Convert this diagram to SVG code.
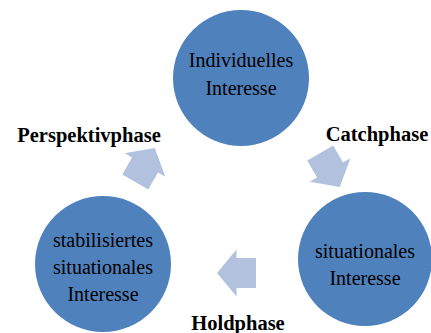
<svg xmlns="http://www.w3.org/2000/svg" width="431" height="333" viewBox="0 0 431 333">
<defs>
<style>
.node{fill:#4F81BD;}
.nt{font-size:20px;fill:#000;text-anchor:middle;}
.lbl{font-size:20.5px;font-weight:bold;fill:#000;text-anchor:middle;}
.arr{fill:#B2C2DE;}
</style>
<path id="blockArrow" d="M -19.5,-15 L 0,-15 L 0,-23.5 L 19.5,0 L 0,23.5 L 0,15 L -19.5,15 Z"/>
</defs>
<rect width="431" height="333" fill="#fff"/>
<g id="connectors" font-family="Liberation Serif, Tinos, Times New Roman, DejaVu Serif, serif">
<use href="#blockArrow" class="arr" transform="translate(330,170) rotate(60)"/>
<use href="#blockArrow" class="arr" transform="translate(236.5,273) rotate(180)"/>
<use href="#blockArrow" class="arr" transform="translate(145,165) rotate(-60)"/>
<text class="lbl" x="377" y="141">Catchphase</text>
<text class="lbl" x="238" y="330">Holdphase</text>
<text class="lbl" x="89" y="142">Perspektivphase</text>
</g>
<g id="node-individuelles" font-family="Liberation Serif, Tinos, Times New Roman, DejaVu Serif, serif">
<circle class="node" cx="241" cy="78" r="68"/>
<text class="nt" x="241" y="67">Individuelles</text>
<text class="nt" x="241" y="95">Interesse</text>
</g>
<g id="node-situationales" font-family="Liberation Serif, Tinos, Times New Roman, DejaVu Serif, serif">
<circle class="node" cx="365" cy="259" r="67"/>
<text class="nt" x="365" y="258">situationales</text>
<text class="nt" x="365" y="285">Interesse</text>
</g>
<g id="node-stabilisiertes" font-family="Liberation Serif, Tinos, Times New Roman, DejaVu Serif, serif">
<circle class="node" cx="103" cy="264" r="68"/>
<text class="nt" x="103" y="247">stabilisiertes</text>
<text class="nt" x="103" y="274">situationales</text>
<text class="nt" x="103" y="301">Interesse</text>
</g>
</svg>
